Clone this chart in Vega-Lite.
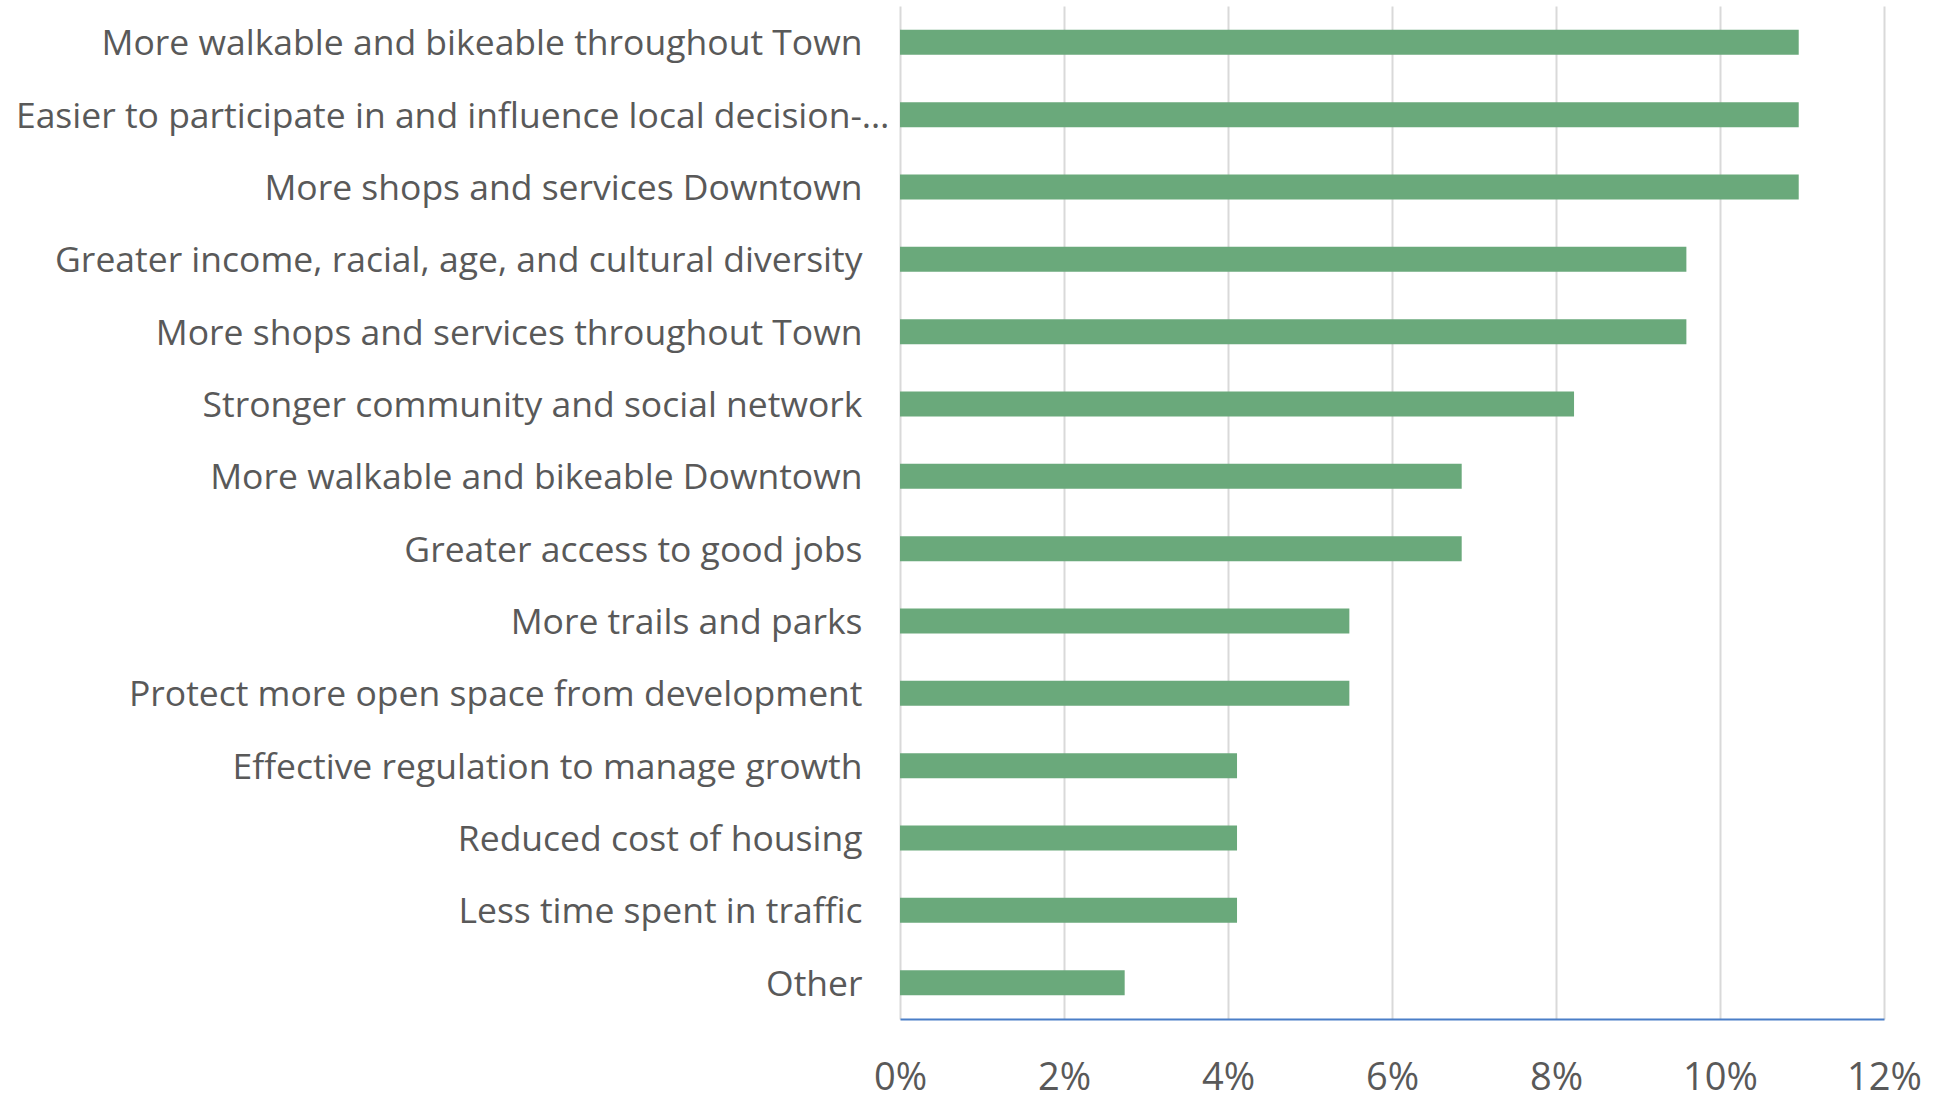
{
  "$schema": "https://vega.github.io/schema/vega-lite/v6.json",
  "width": 984,
  "height": 1013,
  "autosize": {"type": "none"},
  "padding": {"left": 900, "top": 6, "right": 52, "bottom": 82},
  "background": "white",
  "config": {"view": {"stroke": null}, "font": "Open Sans"},
  "data": {
    "values": [
      {"category": "More walkable and bikeable throughout Town", "share": 0.1096},
      {"category": "Easier to participate in and influence local decision-…", "share": 0.1096},
      {"category": "More shops and services Downtown", "share": 0.1096},
      {"category": "Greater income, racial, age, and cultural diversity", "share": 0.0959},
      {"category": "More shops and services throughout Town", "share": 0.0959},
      {"category": "Stronger community and social network", "share": 0.0822},
      {"category": "More walkable and bikeable Downtown", "share": 0.0685},
      {"category": "Greater access to good jobs", "share": 0.0685},
      {"category": "More trails and parks", "share": 0.0548},
      {"category": "Protect more open space from development", "share": 0.0548},
      {"category": "Effective regulation to manage growth", "share": 0.0411},
      {"category": "Reduced cost of housing", "share": 0.0411},
      {"category": "Less time spent in traffic", "share": 0.0411},
      {"category": "Other", "share": 0.0274}
    ]
  },
  "mark": {"type": "bar", "color": "#6AA97B"},
  "encoding": {
    "y": {
      "field": "category",
      "type": "nominal",
      "sort": null,
      "scale": {"paddingInner": 0.655, "paddingOuter": 0.33},
      "axis": {
        "title": null,
        "domain": false,
        "ticks": false,
        "labelFontSize": 35.5,
        "labelColor": "#595959",
        "labelPadding": {"condition": {"test": "indexof(datum.value, 'Easier') == 0", "value": 11}, "value": 38},
        "labelOffset": 2,
        "labelLimit": 0
      }
    },
    "x": {
      "field": "share",
      "type": "quantitative",
      "scale": {"domain": [0, 0.12], "nice": false},
      "axis": {
        "title": null,
        "format": ".0%",
        "values": [0, 0.02, 0.04, 0.06, 0.08, 0.1, 0.12],
        "ticks": false,
        "domainColor": "#4A7EC7",
        "domainWidth": 2,
        "gridColor": "#D9D9D9",
        "gridWidth": 2,
        "labelFontSize": 38,
        "labelColor": "#595959",
        "labelPadding": 40,
        "labelFlush": false
      }
    }
  }
}
